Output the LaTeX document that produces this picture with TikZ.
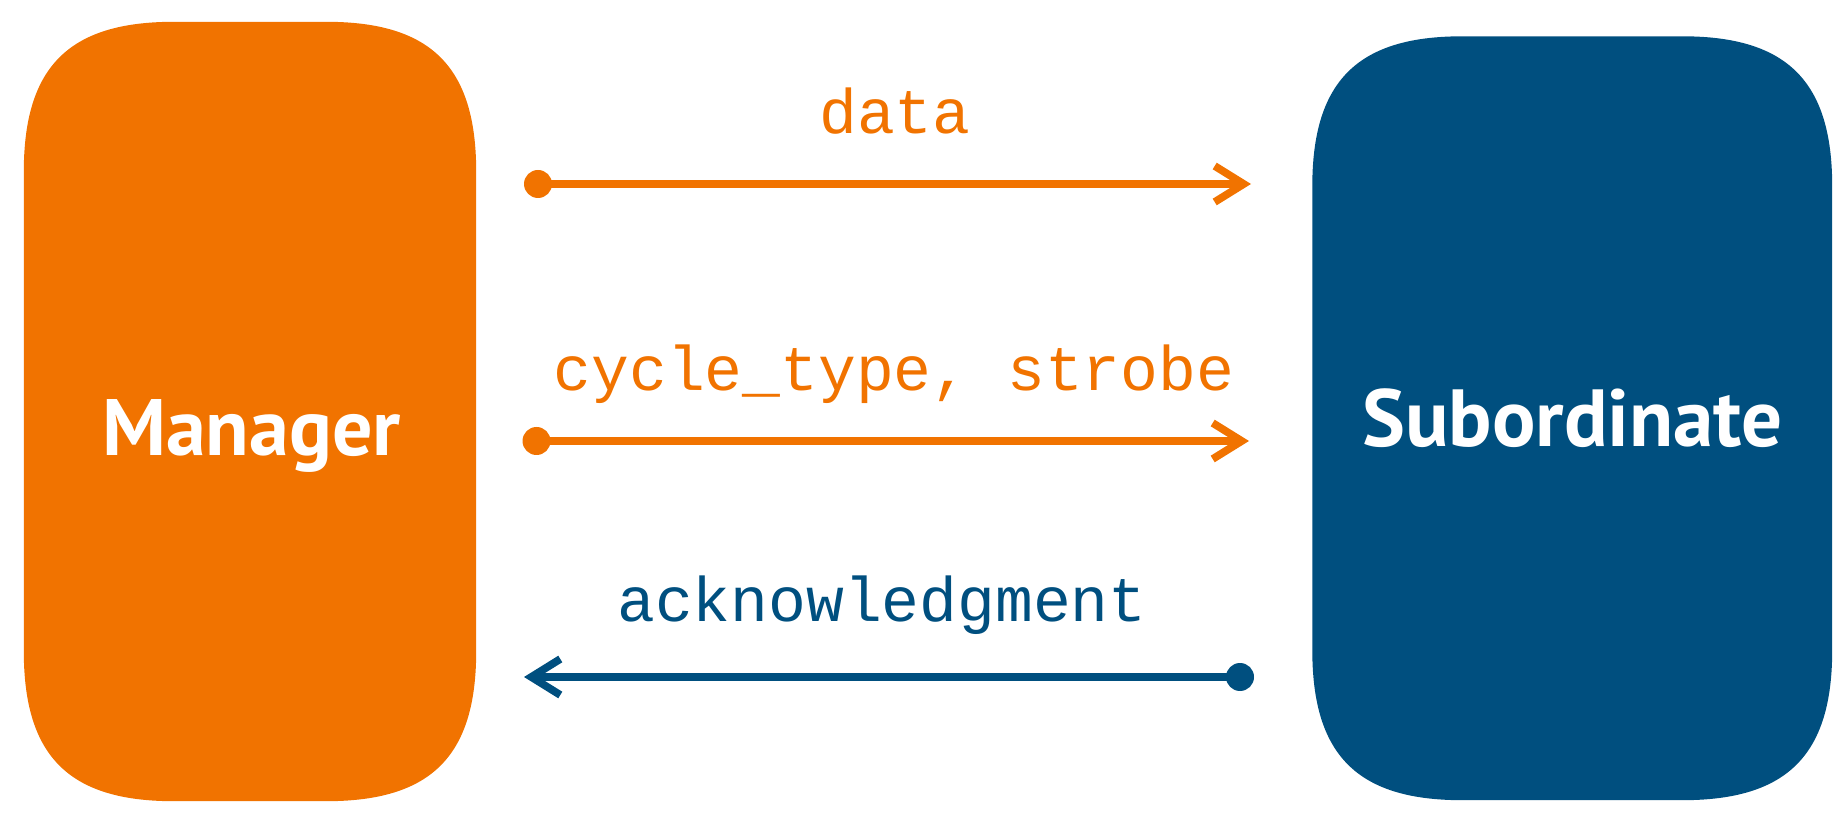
\documentclass[tikz,border=0pt]{standalone}
\usepackage{fontspec}
\setmainfont{PT Sans}
\newfontfamily\codefont{Liberation Mono}
\usetikzlibrary{arrows.meta,calc,backgrounds}

\definecolor{mgrorange}{RGB}{241,115,0}
\definecolor{subblue}{RGB}{0,79,127}

% filled box with smooth (squircle-like) corners, laid over a node's outline
% #1 node name, #2 corner extent, #3 colour
\newcommand\softbox[3]{%
  \fill[#3]
    ($(#1.north west)+(#2,0)$) -- ($(#1.north east)+(-#2,0)$)
    .. controls ($(#1.north east)+(-0.3*#2,0)$) and ($(#1.north east)+(0,-0.3*#2)$) .. ($(#1.north east)+(0,-#2)$)
    -- ($(#1.south east)+(0,#2)$)
    .. controls ($(#1.south east)+(0,0.3*#2)$) and ($(#1.south east)+(-0.3*#2,0)$) .. ($(#1.south east)+(-#2,0)$)
    -- ($(#1.south west)+(#2,0)$)
    .. controls ($(#1.south west)+(0.3*#2,0)$) and ($(#1.south west)+(0,0.3*#2)$) .. ($(#1.south west)+(0,#2)$)
    -- ($(#1.north west)+(0,-#2)$)
    .. controls ($(#1.north west)+(0,-0.3*#2)$) and ($(#1.north west)+(0.3*#2,0)$) .. ($(#1.north west)+(#2,0)$)
    -- cycle;}

\tikzset{
  x=1pt, y=1pt,
  party/.style={rectangle, inner sep=0pt, draw=none},
  partylabel/.style={inner sep=0pt, text=white, font=\bfseries},
  signal/.style={inner sep=0pt, font=\codefont\fontsize{63}{70}\selectfont},
  enddot/.style={circle, inner sep=0pt, minimum size=28pt},
  flow/.style={line width=7.7pt, -{Straight Barb[length=29pt,width=36pt]}},
}

\begin{document}
\begin{tikzpicture}
\useasboundingbox (0,0) rectangle (1845,828);

% the two parties
\node[party, minimum width=452pt, minimum height=779pt] (mgr) at (250,416.5) {};
\node[party, minimum width=519.5pt, minimum height=763.5pt] (sub) at (1572.25,409.75) {};
\begin{scope}[on background layer]
  \softbox{mgr}{150}{mgrorange}
  \softbox{sub}{150}{subblue}
\end{scope}
\node[partylabel, anchor=base, font=\bfseries\fontsize{80}{84}\selectfont] (mgrtext) at (251.5,372) {Manager};
\node[partylabel, anchor=base, font=\bfseries\fontsize{81}{85}\selectfont] (subtext) at (1572.5,381) {Subordinate};

% data: manager -> subordinate
\node[enddot, fill=mgrorange] (d1) at (538,644) {};
\coordinate (t1) at (1251,644);
\draw[flow, draw=mgrorange] (d1.center) -- (t1);
\node[signal, text=mgrorange, anchor=base] (l1) at (895,694) {data};

% cycle_type, strobe: manager -> subordinate
\node[enddot, fill=mgrorange] (d2) at (536.5,387) {};
\coordinate (t2) at (1249,387);
\draw[flow, draw=mgrorange] (d2.center) -- (t2);
\node[signal, text=mgrorange, anchor=base] (l2) at (894,437) {cycle\_type, strobe};

% acknowledgment: subordinate -> manager
\node[enddot, fill=subblue] (d3) at (1240,151) {};
\coordinate (t3) at (524,151);
\draw[flow, draw=subblue] (d3.center) -- (t3);
\node[signal, text=subblue, anchor=base] (l3) at (882,207) {acknowledgment};
\end{tikzpicture}
\end{document}
